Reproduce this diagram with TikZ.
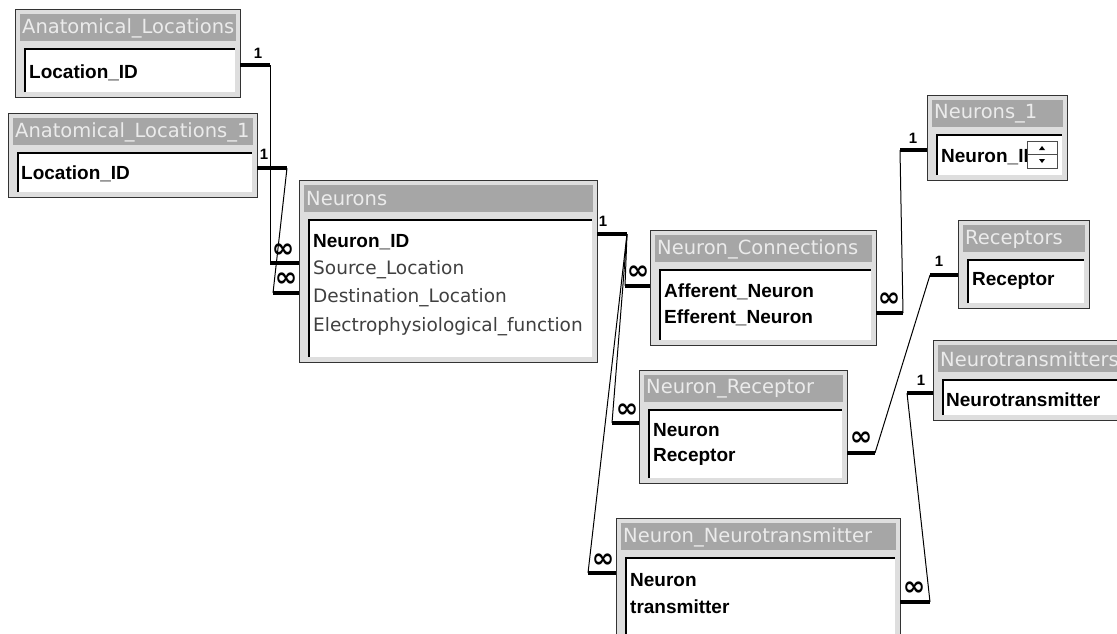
\documentclass[tikz,border=0pt]{standalone}
\usepackage{fontspec}
\setmainfont{DejaVu Sans}
\newfontfamily\boldf{Liberation Sans}
\tikzset{
  tblframe/.style={draw=black!80, line width=1pt, fill=black!13, inner sep=0pt, outer sep=0pt},
  tband/.style={fill=black!35},
  ttitle/.style={font=\fontsize{19.5}{20}\selectfont, text=black!8, inner sep=0pt},
  fborder/.style={draw=black, line width=1.6pt},
  fbold/.style={font=\boldf\bfseries\fontsize{19}{20}\selectfont, inner sep=0pt, anchor=west},
  freg/.style={font=\fontsize{18.5}{20}\selectfont, text=black!75, inner sep=0pt, anchor=west},
  stub/.style={line width=4pt},
  rel/.style={line width=1pt},
  onelbl/.style={font=\boldf\bfseries\fontsize{15}{15}\selectfont, inner sep=0pt},
  manylbl/.style={font=\bfseries\fontsize{27}{27}\selectfont, inner sep=0pt}
}
\newcommand{\dbtab}[6]{%
  \node[tblframe, anchor=north west, minimum width={(#4-#2)*1pt}, minimum height={(#5-#3)*1pt}] (#1) at (#2,#3) {};
  \fill[tband] (#2+5,#3+5) rectangle (#4-4,#3+32);
  \begin{scope}
    \clip (#2+5,#3+5) rectangle (#4-4,#3+32);
    \node[ttitle, anchor=west] (#1t) at (#2+7,#3+19) {#6};
  \end{scope}
  \fill[white] (#2+10,#3+40) rectangle (#4-5,#5-5);
  \draw[fborder] (#2+10,#5-5) -- (#2+10,#3+40) -- (#4-5,#3+40);
}
\begin{document}
\begin{tikzpicture}[x=1pt, y=-1pt]
\clip (0,0) rectangle (1117,633);
\fill[white] (0,0) rectangle (1117,633);

% tables
\dbtab{A}{15}{9}{240}{97}{Anatomical\_Locations}
\node[fbold] (Aloc) at (29,73) {Location\_ID};

\dbtab{B}{8}{113}{257}{197}{Anatomical\_Locations\_1}
\node[fbold] (Bloc) at (21,174) {Location\_ID};

\dbtab{Neu}{299}{180}{597}{362}{Neurons}
\node[fbold] (NeuID) at (313,242) {Neuron\_ID};
\node[freg] (NeuSrc) at (313,270) {Source\_Location};
\node[freg] (NeuDst) at (313,298) {Destination\_Location};
\node[freg] (NeuEl) at (313,327) {Electrophysiological\_function};

\dbtab{NC}{650}{230}{876}{345}{Neuron\_Connections}
\node[fbold] (NCaff) at (664,292) {Afferent\_Neuron};
\node[fbold] (NCeff) at (664,318) {Efferent\_Neuron};

\dbtab{NO}{927}{95}{1067}{180}{Neurons\_1}
\node[fbold] (NOid) at (941,157) {Neuron\_ID};
\draw[fill=white, draw=black!70, line width=0.8pt] (1027,141) rectangle (1057,168);
\draw[black!70, line width=0.8pt] (1027,154.5) -- (1057,154.5);
\fill (1039,150) -- (1045,150) -- (1042,146) -- cycle;
\fill (1039,159) -- (1045,159) -- (1042,163) -- cycle;

\dbtab{R}{958}{220}{1089}{308}{Receptors}
\node[fbold] (Rrec) at (972,281) {Receptor};

\dbtab{NR}{639}{370}{847}{483}{Neuron\_Receptor}
\node[fbold] (NRneu) at (653,430) {Neuron};
\node[fbold] (NRrec) at (653,457) {Receptor};

\dbtab{NT}{933}{340}{1125}{420}{Neurotransmitters}
\node[fbold] (NTnt) at (946,400) {Neurotransmitter};

\dbtab{NN}{616}{518}{900}{650}{Neuron\_Neurotransmitter}
\node[fbold] (NNneu) at (630,580) {Neuron};
\node[fbold] (NNtr) at (630,607) {transmitter};

% connector bend points
\coordinate (a1) at (270,65);  \coordinate (a2) at (270,263);
\coordinate (b1) at (287,168); \coordinate (b2) at (273,293);
\coordinate (n0) at (627,234);
\coordinate (c2) at (625,286);
\coordinate (r2) at (612,423);
\coordinate (t2) at (588,573);
\coordinate (e1) at (903,313); \coordinate (e2) at (900,150);
\coordinate (p1) at (875,453); \coordinate (p2) at (930,275);
\coordinate (q1) at (930,602); \coordinate (q2) at (907,393);

% A -> Neurons
\draw[stub] (A.east |- a1) -- (a1);
\draw[rel] (a1) -- (a2);
\draw[stub] (a2) -- (Neu.west |- a2);
\node[onelbl] (A1) at (258,53) {1};
\node[manylbl] (Am) at (283,251) {∞};

% B -> Neurons
\draw[stub] (B.east |- b1) -- (b1);
\draw[rel] (b1) -- (b2);
\draw[stub] (b2) -- (Neu.west |- b2);
\node[onelbl] (B1) at (264,154) {1};
\node[manylbl] (Bm) at (286,280) {∞};

% Neurons -> Neuron_Connections / Neuron_Receptor / Neuron_Neurotransmitter
\draw[stub] (Neu.east |- n0) -- (n0);
\node[onelbl] (N1l) at (603,221) {1};
\draw[rel] (n0) -- (c2);
\draw[stub] (c2) -- (NC.west |- c2);
\node[manylbl] (NCm) at (638,273) {∞};
\draw[rel] (n0) -- (r2);
\draw[stub] (r2) -- (NR.west |- r2);
\node[manylbl] (NRm) at (627,411) {∞};
\draw[rel] (n0) -- (t2);
\draw[stub] (t2) -- (NN.west |- t2);
\node[manylbl] (NNm) at (603,561) {∞};

% Neuron_Connections -> Neurons_1
\draw[stub] (NC.east |- e1) -- (e1);
\node[manylbl] (NCm2) at (889,300) {∞};
\draw[rel] (e1) -- (e2);
\draw[stub] (e2) -- (NO.west |- e2);
\node[onelbl] (NO1) at (913,138) {1};

% Neuron_Receptor -> Receptors
\draw[stub] (NR.east |- p1) -- (p1);
\node[manylbl] (NRm2) at (861,439) {∞};
\draw[rel] (p1) -- (p2);
\draw[stub] (p2) -- (R.west |- p2);
\node[onelbl] (R1) at (939,261) {1};

% Neuron_Neurotransmitter -> Neurotransmitters
\draw[stub] (NN.east |- q1) -- (q1);
\node[manylbl] (NNm2) at (914,589) {∞};
\draw[rel] (q1) -- (q2);
\draw[stub] (q2) -- (NT.west |- q2);
\node[onelbl] (NT1) at (921,380) {1};
\end{tikzpicture}
\end{document}
